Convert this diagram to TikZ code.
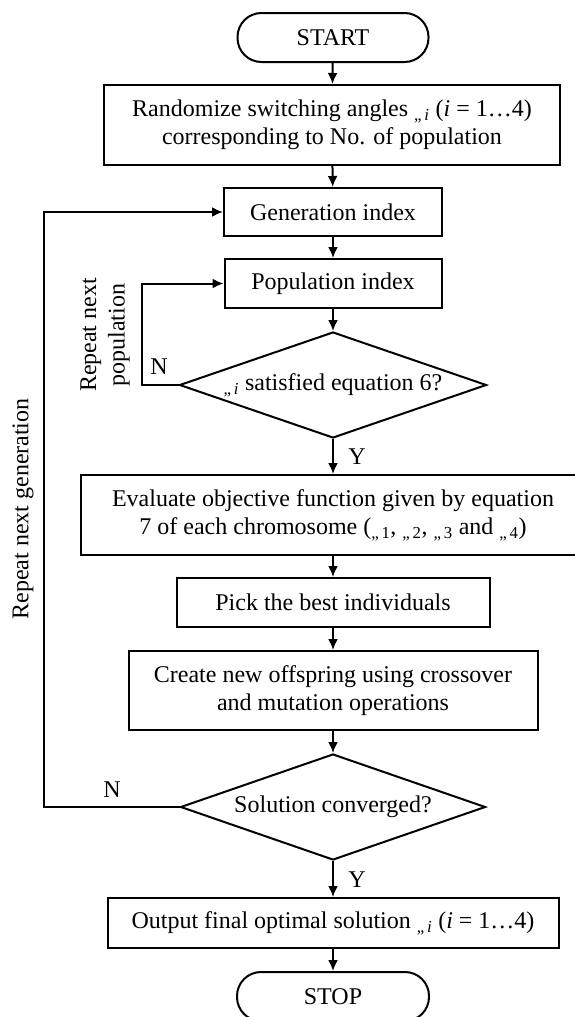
\documentclass[tikz,border=0pt]{standalone}
\usepackage{fontspec}
\setmainfont{Liberation Serif}
\usetikzlibrary{arrows.meta,shapes.geometric}
\newcommand{\angsub}[1]{\textsubscript{„\,#1}}

\begin{document}
\begin{tikzpicture}[x=1pt,y=-1pt,line width=2pt,
    every node/.style={font=\fontsize{24}{28.5}\selectfont,align=center,inner sep=0pt},
    box/.style={rectangle,draw},
    term/.style={rectangle,draw,rounded corners=24pt},
    dec/.style={diamond,draw,aspect=2.9},
    >={Latex[length=11pt,width=10pt]}]
  \useasboundingbox (0,0) rectangle (574,1017);

  \node[term,minimum width=191pt,minimum height=49pt] (start) at (333,37.5) {START};
  \node[box,minimum width=456pt,minimum height=80pt] (rand) at (332,125)
    {Randomize switching angles \angsub{\textit{i}} (\textit{i} = 1…4)\\corresponding to No. of population};
  \node[box,minimum width=218pt,minimum height=48pt] (gen) at (333,212) {Generation index};
  \node[box,minimum width=217pt,minimum height=49pt] (pop) at (333,283.5) {Population index};
  \node[dec,minimum width=307pt,minimum height=106pt] (sat) at (333,385)
    {\angsub{\textit{i}} satisfied equation 6?};
  \node[box,minimum width=505pt,minimum height=80pt] (eval) at (333,515)
    {Evaluate objective function given by equation\\7 of each chromosome (\angsub{1}, \angsub{2}, \angsub{3} and \angsub{4})};
  \node[box,minimum width=313pt,minimum height=49pt] (pick) at (333,602.5) {Pick the best individuals};
  \node[box,minimum width=409pt,minimum height=79pt] (create) at (333,690.5)
    {Create new offspring using crossover\\and mutation operations};
  \node[dec,minimum width=305pt,minimum height=106pt] (conv) at (333,807) {Solution converged?};
  \node[box,minimum width=451pt,minimum height=50pt] (out) at (333,923)
    {Output final optimal solution \angsub{\textit{i}} (\textit{i} = 1…4)};
  \node[term,minimum width=192pt,minimum height=49pt] (stop) at (333,996.5) {STOP};

  % labels
  \node (n1) at (159,367) {N};
  \node (y1) at (357,457) {Y};
  \node (n2) at (112,790) {N};
  \node (y2) at (357,880) {Y};
  \node[rotate=90] (reppop) at (105,335) {Repeat next\\population};
  \node[rotate=90] (repgen) at (23,509) {Repeat next generation};

  \coordinate (popturn) at (142,385);
  \coordinate (genturn) at (44,807);

  \path[->]
    (start) edge (rand)
    (rand) edge (gen)
    (gen) edge (pop)
    (pop) edge (sat)
    (sat) edge (eval)
    (eval) edge (pick)
    (pick) edge (create)
    (create) edge (conv)
    (conv) edge (out)
    (out) edge (stop);

  \draw[->] (sat.west) -- (popturn) |- (pop.west);
  \draw[->] (conv.west) -- (genturn) |- (gen.west);
\end{tikzpicture}
\end{document}
